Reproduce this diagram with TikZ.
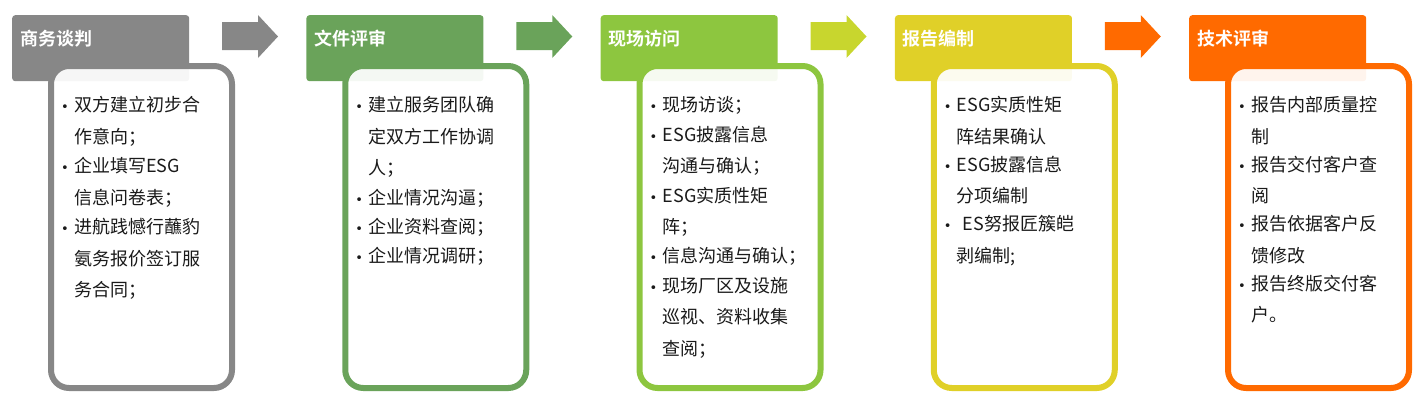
\documentclass[tikz,border=0pt]{standalone}
\usepackage{fontspec}
\setmainfont{Noto Sans CJK SC}
\newfontfamily\cjkb{Noto Sans CJK SC Bold}
\newfontfamily\dvs{DejaVu Sans}
\definecolor{cA}{HTML}{878787}
\definecolor{cB}{HTML}{6AA35A}
\definecolor{cC}{HTML}{8DC63F}
\definecolor{cD}{HTML}{E0D028}
\definecolor{cE}{HTML}{FF6A00}
\definecolor{aC}{HTML}{C8D62E}
\definecolor{txt}{HTML}{1A1A1A}
\newcommand\itm[1]{\par\noindent\makebox[13pt][l]{\dvs\fontsize{13}{13}\selectfont•}\parbox[t]{160pt}{\raggedright #1}\par\prevdepth=5pt\relax}
\tikzset{
 titlebox/.style={fill=#1, rounded corners=3pt, minimum width=177pt, minimum height=66pt, anchor=north west, inner sep=0pt},
 titletext/.style={text=white, font=\cjkb\fontsize{18}{20}\selectfont, anchor=west, inner sep=0pt},
 bodybox/.style={draw=#1, line width=6pt, rounded corners=18pt, fill=white, fill opacity=0.93, draw opacity=1, minimum width=181pt, minimum height=322pt, anchor=north west, inner sep=0pt},
 bodytext/.style={text=txt, font=\fontsize{18}{31.5}\selectfont, anchor=north west, text width=175pt, inner sep=0pt, execute at begin node=\raggedright}
}
\begin{document}
\begin{tikzpicture}[x=1pt,y=-1pt]
\useasboundingbox (0,0) rectangle (1421,400);
\foreach \i/\c/\t in {0/cA/商务谈判,1/cB/文件评审,2/cC/现场访问,3/cD/报告编制,4/cE/技术评审}{
  \pgfmathsetmacro\xo{12+294.25*\i}
  \node[titlebox=\c] (t\i) at (\xo,15) {};
  \node[titletext] (tt\i) at (\xo+8,39) {\t};
  \node[bodybox=\c] (b\i) at (\xo+36,63) {};
}
\foreach \i/\c in {0/cA,1/cB,2/aC,3/cE}{
  \pgfmathsetmacro\xa{222+294.25*\i}
  \fill[fill=\c] (\xa,22) -- (\xa+36,22) -- (\xa+36,15) -- (\xa+56,36.5) -- (\xa+36,58) -- (\xa+36,50) -- (\xa,50) -- cycle;
}
\node[bodytext] (x0) at ([xshift=13pt,yshift=-17pt]b0.north west) {%
\itm{双方建立初步合\\作意向；}\itm{企业填写ESG\\信息问卷表；}\itm{进航践憾行蘸豹\\氨务报价签订服\\务合同；}};
\node[bodytext] (x1) at ([xshift=13pt,yshift=-17pt]b1.north west) {%
\itm{建立服务团队确\\定双方工作协调\\人；}\itm{企业情况沟逼；}\itm{企业资料查阅；}\itm{企业情况调研；}};
\node[bodytext] (x2) at ([xshift=13pt,yshift=-17pt]b2.north west) {%
\itm{现场访谈；}\itm{ESG披露信息\\沟通与确认；}\itm{ESG实质性矩\\阵；}\itm{信息沟通与确认；}\itm{现场厂区及设施\\巡视、资料收集\\查阅；}};
\node[bodytext] (x3) at ([xshift=13pt,yshift=-17pt]b3.north west) {%
\itm{ESG实质性矩\\阵结果确认}\itm{ESG披露信息\\分项编制}\itm{\ ES努报匠簇皑\\剥编制;}};
\node[bodytext] (x4) at ([xshift=13pt,yshift=-17pt]b4.north west) {%
\itm{报告内部质量控\\制}\itm{报告交付客户查\\阅}\itm{报告依据客户反\\馈修改}\itm{报告终版交付客\\户。}};
\end{tikzpicture}
\end{document}
